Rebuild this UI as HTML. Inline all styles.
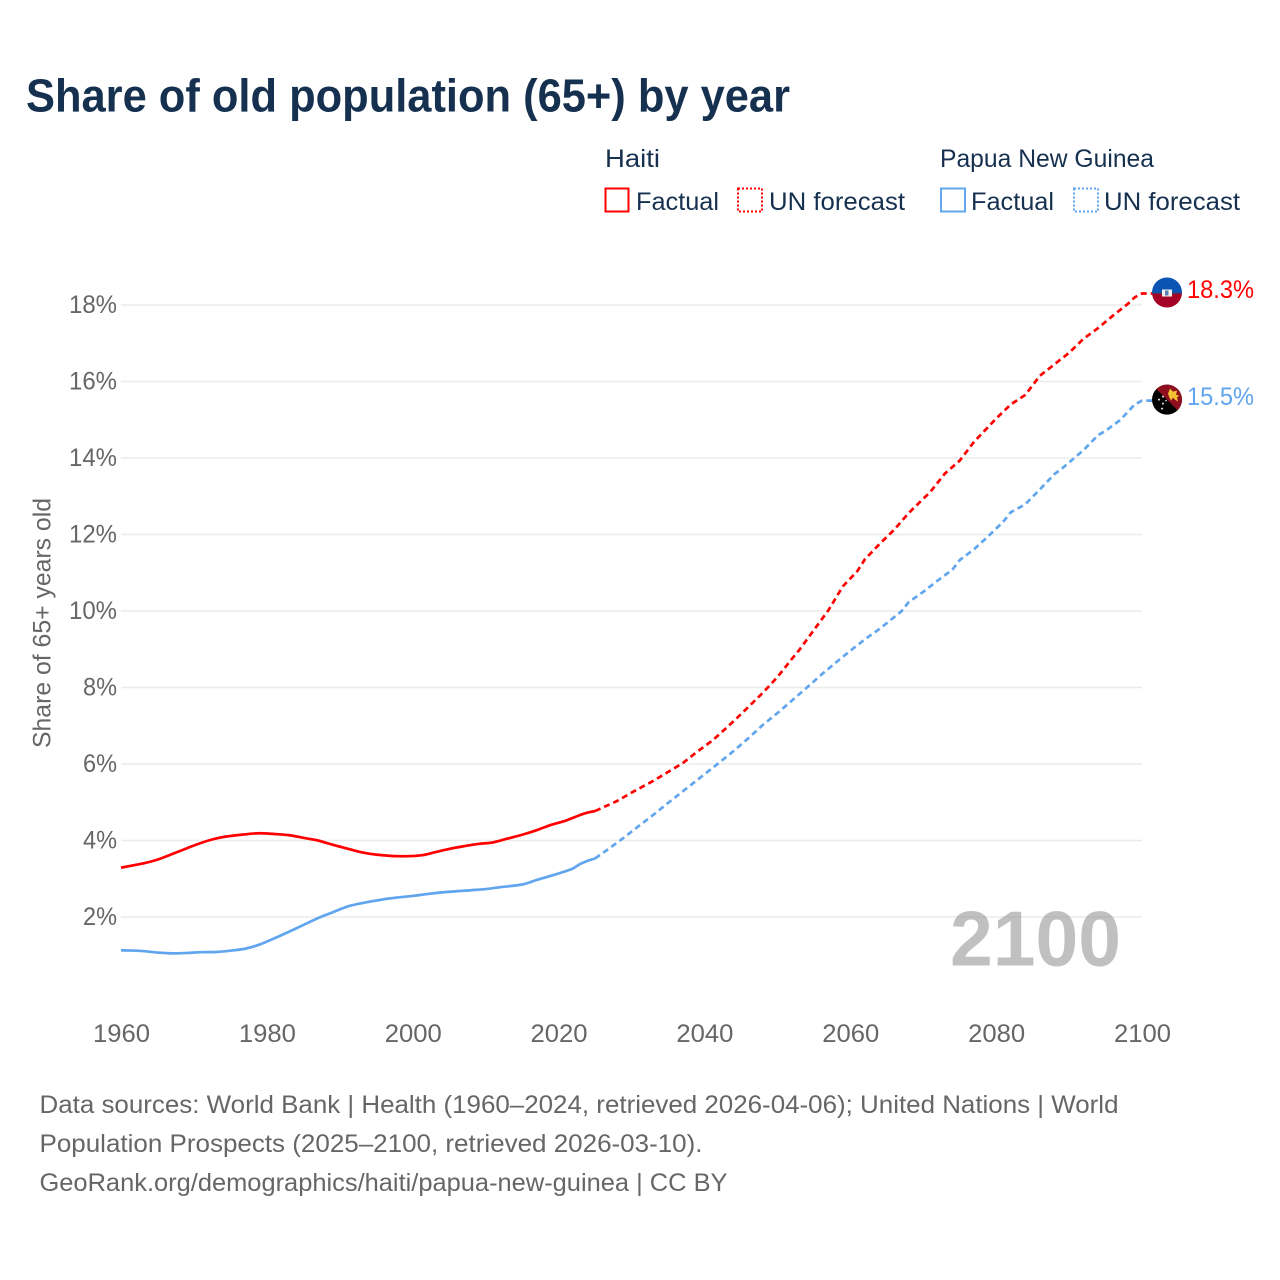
<!DOCTYPE html>
<html lang="en">
<head>
<meta charset="utf-8">
<title>Share of old population (65+) by year</title>
<style>
  html, body { margin: 0; padding: 0; background: #ffffff; }
  svg { display: block; font-family: "Liberation Sans", sans-serif; }
</style>
</head>
<body>
<svg id="chart" width="1280" height="1280" viewBox="0 0 1280 1280">
  <rect width="1280" height="1280" fill="#ffffff"/>
  <text x="26" y="111.5" font-size="46" font-weight="700" fill="#16304f" textLength="764" lengthAdjust="spacingAndGlyphs">Share of old population (65+) by year</text>

  <g>
    <text x="605" y="167" font-size="25" fill="#16304f" textLength="55" lengthAdjust="spacingAndGlyphs">Haiti</text>
    <rect x="605.5" y="188.5" width="23" height="23" fill="none" stroke="#ff0000" stroke-width="2"/>
    <text x="636" y="210" font-size="25" fill="#16304f" textLength="83" lengthAdjust="spacingAndGlyphs">Factual</text>
    <rect x="738" y="188.5" width="24" height="23" fill="none" stroke="#ff0000" stroke-width="2" stroke-dasharray="2 2"/>
    <text x="769" y="210" font-size="25" fill="#16304f" textLength="136" lengthAdjust="spacingAndGlyphs">UN forecast</text>

    <text x="940" y="167" font-size="25" fill="#16304f" textLength="214" lengthAdjust="spacingAndGlyphs">Papua New Guinea</text>
    <rect x="941" y="188.5" width="24" height="23" fill="none" stroke="#60a5ee" stroke-width="2"/>
    <text x="971" y="210" font-size="25" fill="#16304f" textLength="83" lengthAdjust="spacingAndGlyphs">Factual</text>
    <rect x="1074" y="188.5" width="24" height="23" fill="none" stroke="#60a5ee" stroke-width="2" stroke-dasharray="2 2"/>
    <text x="1104" y="210" font-size="25" fill="#16304f" textLength="136" lengthAdjust="spacingAndGlyphs">UN forecast</text>
  </g>

  <text transform="translate(50.5 748) rotate(-90)" font-size="25" fill="#666666" textLength="250" lengthAdjust="spacingAndGlyphs">Share of 65+ years old</text>

  <g id="grid"></g>
  <g id="yticks"></g>
  <g id="xticks"></g>

  <text x="950" y="965.5" font-size="78" font-weight="700" fill="#969696" fill-opacity="0.6" textLength="171" lengthAdjust="spacingAndGlyphs">2100</text>

  <g id="series"></g>

  <defs>
    <clipPath id="flag-clip"><circle cx="0" cy="0" r="15"/></clipPath>
  </defs>

  <g id="flag-haiti">
    <g clip-path="url(#flag-clip)">
      <rect x="-16" y="-16" width="32" height="16" fill="#0a55b4"/>
      <rect x="-16" y="0" width="32" height="16" fill="#a50026"/>
      <rect x="-16" y="0" width="32" height="1.2" fill="#2f4a78"/>
      <rect x="-5" y="-3" width="10" height="7" fill="#f4f2ee"/>
      <rect x="-2" y="-2" width="3.5" height="5" fill="#5a7db0"/>
    </g>
  </g>
  <g id="flag-png">
    <g clip-path="url(#flag-clip)">
      <rect x="-16" y="-16" width="32" height="32" fill="#000000"/>
      <polygon points="-16,-16 16,-16 16,16" fill="#8f0f1f"/>
      <polygon points="1,-6 3,-11 6,-8 10,-9 9,-5 12,-4 10,-2 11,2 8,0 6,-2 4,1 2,-3" fill="#f2c230"/>
      <circle cx="-8" cy="0" r="1" fill="#dfe6ee"/>
      <circle cx="-4" cy="-3" r="1" fill="#dfe6ee"/>
      <circle cx="-4" cy="4" r="1" fill="#dfe6ee"/>
      <circle cx="-1" cy="1" r="0.8" fill="#dfe6ee"/>
      <circle cx="-5" cy="9" r="1" fill="#dfe6ee"/>
    </g>
  </g>

  <text id="label-haiti" font-size="25" fill="#ff0000"></text>
  <text id="label-png" font-size="25" fill="#60a5ee"></text>

  <g fill="#666666" font-size="25">
    <text x="39.5" y="1113" textLength="1079" lengthAdjust="spacingAndGlyphs">Data sources: World Bank | Health (1960–2024, retrieved 2026-04-06); United Nations | World</text>
    <text x="39.5" y="1152" textLength="663" lengthAdjust="spacingAndGlyphs">Population Prospects (2025–2100, retrieved 2026-03-10).</text>
    <text x="39.5" y="1191" textLength="688" lengthAdjust="spacingAndGlyphs">GeoRank.org/demographics/haiti/papua-new-guinea | CC BY</text>
  </g>
</svg>

<script>
const xTickYears = [1960, 1980, 2000, 2020, 2040, 2060, 2080, 2100];
const yTickValues = [2, 4, 6, 8, 10, 12, 14, 16, 18];

const haitiFactualYears = [1960,1963,1965,1968,1970,1972,1974,1977,1979,1981,1983,1985,1987,1989,1991,1993,1995,1998,2001,2003,2005,2007,2009,2011,2013,2015,2017,2019,2021,2023,2024,2025];
const haitiFactualValues = [3.29,3.40,3.50,3.72,3.87,4.00,4.09,4.16,4.19,4.17,4.14,4.07,4.00,3.89,3.79,3.69,3.63,3.59,3.61,3.69,3.78,3.85,3.91,3.95,4.05,4.15,4.27,4.41,4.52,4.67,4.73,4.77];

const haitiForecastYears = [2025,2028,2030,2033,2035,2037,2039,2041,2043,2045,2048,2050,2052,2053,2055,2057,2059,2061,2062,2064,2066,2068,2071,2073,2075,2077,2080,2082,2084,2086,2088,2090,2092,2094,2096,2098,2099,2100];
const haitiForecastValues = [4.77,5.03,5.25,5.56,5.79,6.02,6.32,6.60,6.94,7.30,7.86,8.27,8.75,8.98,9.50,10.02,10.65,11.05,11.35,11.75,12.12,12.56,13.12,13.60,13.93,14.43,15.03,15.40,15.65,16.15,16.45,16.75,17.12,17.40,17.72,18.02,18.2,18.3];

const pngFactualYears = [1960,1963,1965,1967,1969,1971,1973,1975,1977,1979,1981,1984,1987,1989,1991,1993,1995,1997,2000,2002,2005,2008,2010,2012,2015,2017,2019,2021,2022,2023,2024,2025];
const pngFactualValues = [1.13,1.11,1.07,1.05,1.06,1.08,1.085,1.12,1.17,1.28,1.44,1.70,1.97,2.12,2.27,2.36,2.43,2.49,2.55,2.60,2.66,2.70,2.73,2.78,2.85,2.97,3.08,3.20,3.27,3.39,3.47,3.53];

const pngForecastYears = [2025,2027,2029,2031,2033,2035,2038,2040,2042,2044,2046,2048,2050,2052,2054,2056,2058,2060,2062,2064,2067,2068,2070,2072,2074,2075,2077,2079,2081,2082,2084,2086,2088,2089,2092,2094,2095,2097,2099,2100];
const pngForecastValues = [3.53,3.80,4.08,4.38,4.67,4.98,5.43,5.73,6.03,6.34,6.67,7.02,7.33,7.66,7.99,8.33,8.65,8.96,9.26,9.53,9.99,10.23,10.50,10.80,11.08,11.33,11.62,11.97,12.34,12.58,12.79,13.18,13.58,13.72,14.21,14.60,14.71,14.99,15.40,15.50];

const SVG_NS = 'http://www.w3.org/2000/svg';
const RED = '#ff0000';
const BLUE = '#60a5ee';
const FLAG_X = 1167;

function xScale(year) { return 121 + (year - 1960) * (1021 / 140); }
function yScale(value) { return 917 - (value - 2) * 38.25; }

function smoothPath(years, values) {
  const pts = years.map((y, i) => [xScale(y), yScale(values[i])]);
  let d = 'M' + pts[0][0].toFixed(2) + ' ' + pts[0][1].toFixed(2);
  for (let i = 0; i < pts.length - 1; i++) {
    const p0 = pts[Math.max(i - 1, 0)], p1 = pts[i], p2 = pts[i + 1], p3 = pts[Math.min(i + 2, pts.length - 1)];
    const c1x = p1[0] + (p2[0] - p0[0]) / 6, c1y = p1[1] + (p2[1] - p0[1]) / 6;
    const c2x = p2[0] - (p3[0] - p1[0]) / 6, c2y = p2[1] - (p3[1] - p1[1]) / 6;
    d += 'C' + [c1x, c1y, c2x, c2y, p2[0], p2[1]].map(n => n.toFixed(2)).join(' ');
  }
  return d;
}

function linearPath(years, values) {
  return years.map((y, i) => (i ? 'L' : 'M') + xScale(y).toFixed(2) + ' ' + yScale(values[i]).toFixed(2)).join('');
}

const grid = document.getElementById('grid');
const yticks = document.getElementById('yticks');
const xticks = document.getElementById('xticks');
const series = document.getElementById('series');

yTickValues.forEach(function (v) {
  const line = document.createElementNS(SVG_NS, 'line');
  line.setAttribute('x1', xScale(1960));
  line.setAttribute('x2', xScale(2100));
  line.setAttribute('y1', yScale(v));
  line.setAttribute('y2', yScale(v));
  line.setAttribute('stroke', '#ebebeb');
  line.setAttribute('stroke-width', '1.5');
  
  
  grid.appendChild(line);

  const label = document.createElementNS(SVG_NS, 'text');
  const str = v + '%';
  label.textContent = str;
  label.setAttribute('x', str.length === 3 ? 69 : 83);
  label.setAttribute('y', yScale(v) + 8);
  label.setAttribute('font-size', '25');
  label.setAttribute('fill', '#666666');
  label.setAttribute('textLength', str.length === 3 ? 48 : 34);
  label.setAttribute('lengthAdjust', 'spacingAndGlyphs');
  
  
  yticks.appendChild(label);
});

xTickYears.forEach(function (year) {
  const label = document.createElementNS(SVG_NS, 'text');
  label.textContent = String(year);
  label.setAttribute('x', xScale(year) - 28);
  label.setAttribute('y', 1042);
  label.setAttribute('font-size', '25');
  label.setAttribute('fill', '#666666');
  label.setAttribute('textLength', '57');
  label.setAttribute('lengthAdjust', 'spacingAndGlyphs');
  
  
  xticks.appendChild(label);
});

function addFactual(name, years, values, color) {
  const path = document.createElementNS(SVG_NS, 'path');
  path.setAttribute('d', smoothPath(years, values));
  path.setAttribute('fill', 'none');
  path.setAttribute('stroke', color);
  path.setAttribute('stroke-width', '2.7');
  
  
  series.appendChild(path);
}

function addForecast(name, years, values, color) {
  const lastY = yScale(values[values.length - 1]);
  const path = document.createElementNS(SVG_NS, 'path');
  path.setAttribute('d', linearPath(years, values) + 'L' + FLAG_X + ' ' + lastY.toFixed(2));
  path.setAttribute('fill', 'none');
  path.setAttribute('stroke', color);
  path.setAttribute('stroke-width', '2.7');
  path.setAttribute('stroke-dasharray', '6 4');
  
  
  series.appendChild(path);
}

addFactual('haiti-factual-line', haitiFactualYears, haitiFactualValues, RED);
addForecast('haiti-forecast-line', haitiForecastYears, haitiForecastValues, RED);
addFactual('png-factual-line', pngFactualYears, pngFactualValues, BLUE);
addForecast('png-forecast-line', pngForecastYears, pngForecastValues, BLUE);

function placeEnd(flagId, labelId, value) {
  const y = yScale(value);
  document.getElementById(flagId).setAttribute('transform', 'translate(' + FLAG_X + ' ' + (y - 1).toFixed(2) + ')');
  const label = document.getElementById(labelId);
  label.textContent = value.toFixed(1) + '%';
  label.setAttribute('x', 1187);
  label.setAttribute('y', (y + 4.5).toFixed(2));
  label.setAttribute('textLength', '67');
  label.setAttribute('lengthAdjust', 'spacingAndGlyphs');
}

placeEnd('flag-haiti', 'label-haiti', haitiForecastValues[haitiForecastValues.length - 1]);
placeEnd('flag-png', 'label-png', pngForecastValues[pngForecastValues.length - 1]);
</script>
</body>
</html>
